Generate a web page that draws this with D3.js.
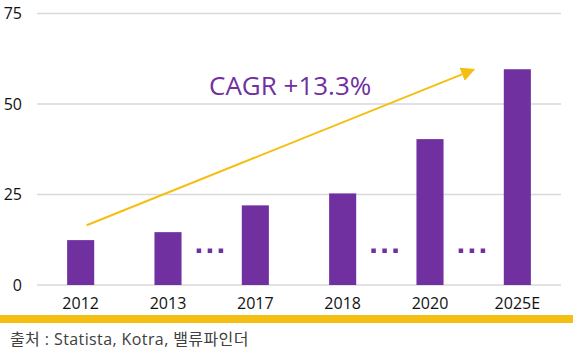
<!DOCTYPE html>
<html><head><meta charset="utf-8">
<script src="https://cdn.jsdelivr.net/npm/d3@7"></script>
<style>body{margin:0;background:#fff}svg{display:block}</style>
</head><body><svg id="c" width="573" height="358"></svg>
<script>
const categories = ["2012","2013","2017","2018","2020","2025E"];
const values = [12.4, 14.6, 22.0, 25.3, 40.3, 59.6];
const yTicks = [0, 25, 50, 75];
const gapAfter = ["2013","2018","2020"]; // "..." markers between these and next
const cagrLabel = "CAGR +13.3%";
const cagrFrom = {cat:"2012", value:16.5};
const cagrTo = {cat:"2025E", value:59.5};
const sourceText = "출처 : Statista, Kotra, 밸류파인더";

const purple = "#7030A0", gold = "#F5BE12";
const svg = d3.select("#c");
const font = "'Open Sans','Noto Sans CJK KR',sans-serif";

const x = d3.scaleBand().domain(categories).range([37, 561]).paddingInner(0.69).paddingOuter(0.345);
const y = d3.scaleLinear().domain([0, 75]).range([285, 13.5]);

// grid
svg.append("g").selectAll("line").data(yTicks).join("line")
  .attr("x1", 37).attr("x2", 561)
  .attr("y1", d => y(d)).attr("y2", d => y(d))
  .attr("stroke", "#d9d9d9").attr("stroke-width", 1.5);

// y axis labels
const yAxis = d3.axisLeft(y).tickValues(yTicks).tickSize(0).tickPadding(0);
const ya = svg.append("g").attr("transform", "translate(22,0)").call(yAxis);
ya.select(".domain").remove();
ya.selectAll("text").attr("font-family", font).attr("font-size", 16).attr("fill", "#111").attr("dy", "0.34em");

// bars
svg.append("g").selectAll("rect").data(categories).join("rect")
  .attr("x", d => x(d)).attr("width", x.bandwidth())
  .attr("y", (d,i) => y(values[i])).attr("height", (d,i) => y(0) - y(values[i]))
  .attr("fill", purple);

// x axis labels
const xAxis = d3.axisBottom(x).tickSize(0).tickPadding(0);
const xa = svg.append("g").attr("transform", "translate(0,309)").call(xAxis);
xa.select(".domain").remove();
xa.selectAll("text").attr("font-family", font).attr("font-size", 16).attr("fill", "#111").attr("dy", "0");

// "..." dots
gapAfter.forEach(c => {
  const i = categories.indexOf(c);
  const cx = (x(categories[i]) + x(categories[i+1]) + x.bandwidth()) / 2 - 2;
  [-11, 0, 11].forEach(o => {
    svg.append("rect").attr("x", cx + o - 2).attr("y", 248.5).attr("width", 4.5).attr("height", 4.5).attr("fill", purple);
  });
});

// arrow
const defs = svg.append("defs");
defs.append("marker").attr("id", "ah").attr("viewBox", "0 0 10 10").attr("refX", 9).attr("refY", 5)
  .attr("markerWidth", 7).attr("markerHeight", 7).attr("markerUnits", "strokeWidth").attr("orient", "auto")
  .append("path").attr("d", "M0,0 L10,5 L0,10 Z").attr("fill", gold);
const cx0 = x(cagrFrom.cat) + x.bandwidth()/2 + 6;
const cx1 = x(cagrTo.cat) - 30;
svg.append("line")
  .attr("x1", cx0).attr("y1", y(cagrFrom.value))
  .attr("x2", cx1).attr("y2", y(cagrTo.value))
  .attr("stroke", gold).attr("stroke-width", 2).attr("marker-end", "url(#ah)");

svg.append("text").attr("x", 209).attr("y", 95).attr("font-family", font).attr("font-size", 26)
  .attr("fill", purple).text(cagrLabel);

// bottom band
svg.append("rect").attr("x", 0).attr("y", 315).attr("width", 573).attr("height", 8).attr("fill", gold);

svg.append("text").attr("x", 10).attr("y", 345).attr("font-family", font).attr("font-size", 16)
  .attr("letter-spacing", 0.4).attr("fill", "#404040").text(sourceText);
</script></body></html>
